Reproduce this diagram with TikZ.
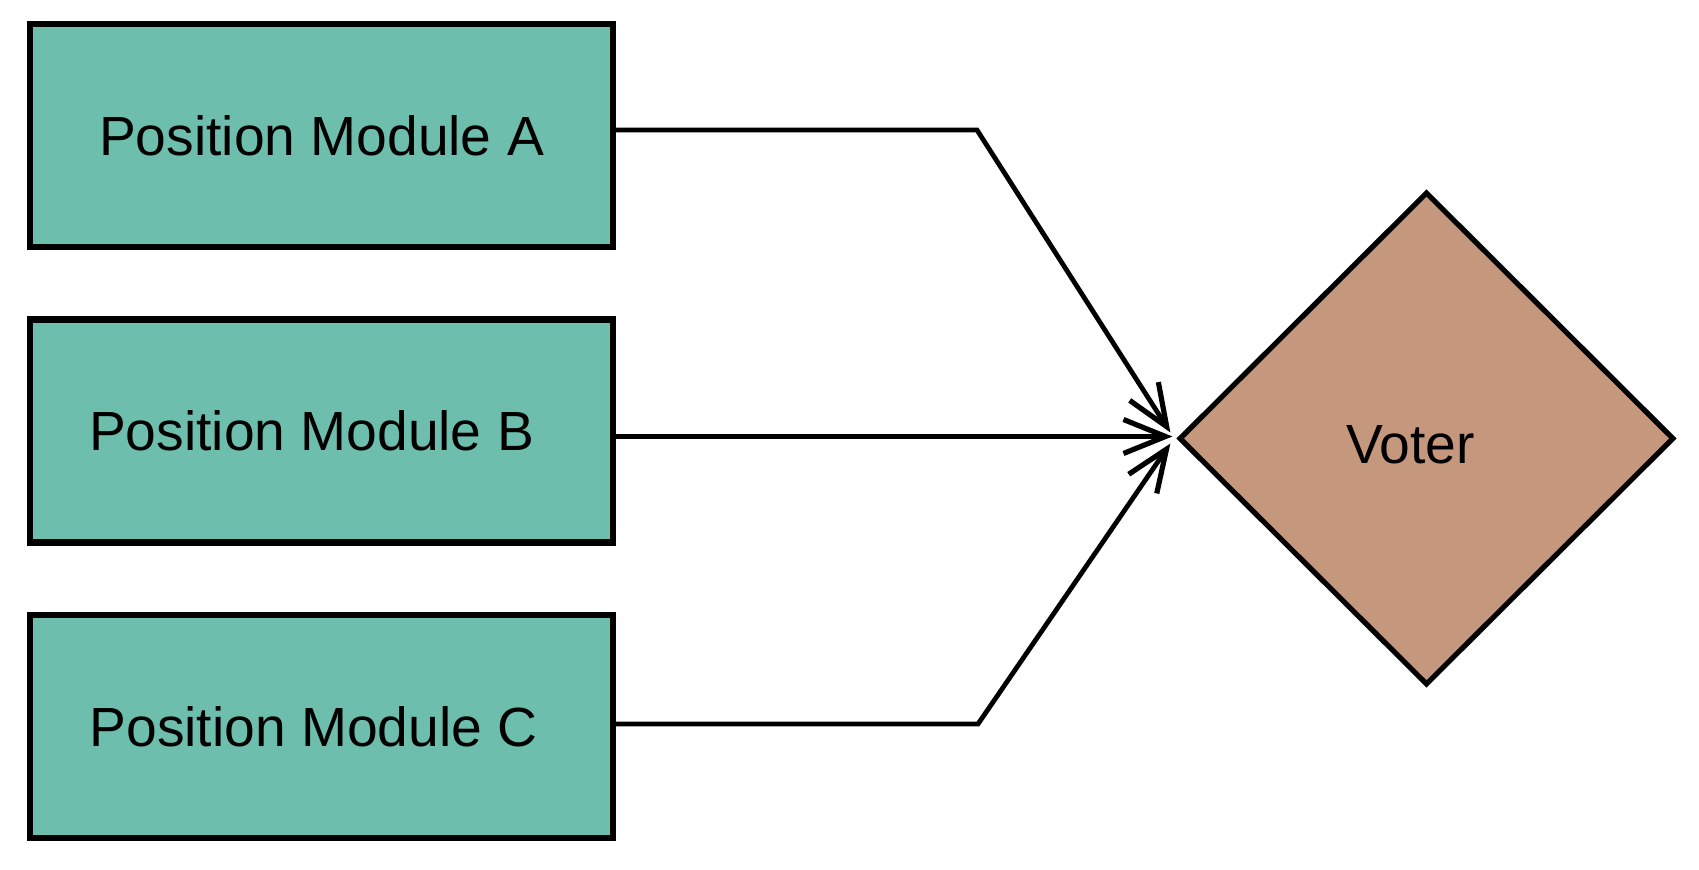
\documentclass[tikz,border=0pt]{standalone}
\usepackage{fontspec}
\setmainfont{Liberation Sans}
\usetikzlibrary{arrows.meta,shapes.geometric,calc}
\definecolor{modteal}{RGB}{109,190,173}
\definecolor{votbrown}{RGB}{197,152,126}
\begin{document}
\begin{tikzpicture}[x=0.5pt,y=-0.5pt,
  module/.style={draw=black,line width=3.2pt,fill=modteal,minimum width=291.5pt,minimum height=111.5pt,inner sep=0pt,font=\fontsize{27.6}{30}\selectfont},
  voter/.style={diamond,draw=black,line width=2.6pt,fill=votbrown,minimum width=247.5pt,minimum height=246.5pt,inner sep=0pt,font=\fontsize{27.6}{30}\selectfont},
  conn/.style={draw=black,line width=2.4pt,-{Straight Barb[length=21pt,width=17pt,line width=2.6pt]}}]
\useasboundingbox (0,0) rectangle (1699,870);
\node[module] (A) at (321.5,135.5) {Position Module A};
\node[module] (B) at (321.5,431) {\hspace*{-10pt}Position Module B};
\node[module] (C) at (321.5,726.5) {\hspace*{-8pt}Position Module C};
\node[voter] (V) at (1426.5,438.5) {\smash{\raisebox{-12.6pt}{Voter}}\hspace*{16pt}};
\coordinate (ta) at ($(V.west)+(-6,-6)$);
\coordinate (tb) at ($(V.west)+(-4,-2)$);
\coordinate (tc) at ($(V.west)+(-6,5)$);
\coordinate (ba) at (977,130);
\coordinate (bc) at (978,724);
\draw[conn] (A.east |- ba) -- (ba) -- (ta);
\draw[conn] (B.east |- tb) -- (tb);
\draw[conn] (C.east |- bc) -- (bc) -- (tc);
\end{tikzpicture}
\end{document}
